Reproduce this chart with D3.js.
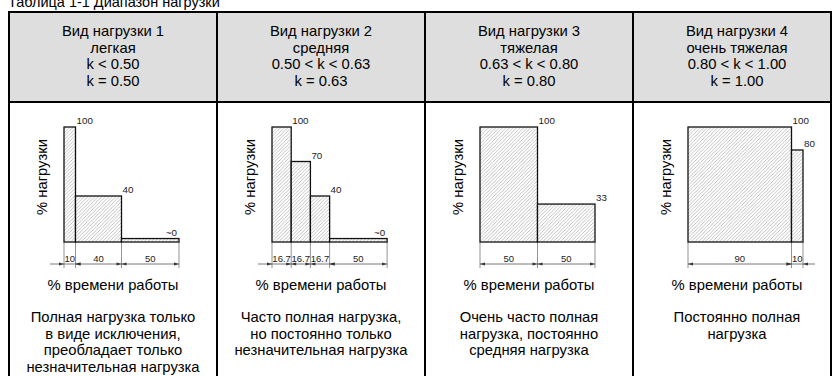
<!DOCTYPE html>
<html>
<head>
<meta charset="utf-8">
<script src="https://cdn.jsdelivr.net/npm/d3@7"></script>
<style>
  html, body { margin: 0; padding: 0; background: #fff; }
  svg { display: block; font-family: Arial, "Liberation Sans", sans-serif; }
</style>
</head>
<body>
<svg id="chart" width="833" height="376"></svg>
<script>
// ---------- data ----------
const title = "Таблица 1-1 Диапазон нагрузки";
const loadTypes = ["Вид нагрузки 1", "Вид нагрузки 2", "Вид нагрузки 3", "Вид нагрузки 4"];
const loadNames = ["легкая", "средняя", "тяжелая", "очень тяжелая"];
const kRanges = ["k < 0.50", "0.50 < k < 0.63", "0.63 < k < 0.80", "0.80 < k < 1.00"];
const kValues = ["k = 0.50", "k = 0.63", "k = 0.80", "k = 1.00"];
const timeShares = [[10, 40, 50], [16.7, 16.7, 16.7, 50], [50, 50], [90, 10]];
const loadLevels = [[100, 40, 3], [100, 70, 40, 3], [100, 33], [100, 80]];
const loadLabels = [["100", "40", "~0"], ["100", "70", "40", "~0"], ["100", "33"], ["100", "80"]];
const timeLabels = [["10", "40", "50"], ["16.7", "16.7", "16.7", "50"], ["50", "50"], ["90", "10"]];
const yAxisTitle = "% нагрузки";
const xAxisTitle = "% времени работы";
const descriptions = [
  ["Полная нагрузка только", "в виде исключения,", "преобладает только", "незначительная нагрузка"],
  ["Часто полная нагрузка,", "но постоянно только", "незначительная нагрузка"],
  ["Очень часто полная", "нагрузка, постоянно", "средняя нагрузка"],
  ["Постоянно полная", "нагрузка"]
];

// ---------- layout ----------
const svg = d3.select("#chart");
const tableLeft = 9, tableRight = 831, tableTop = 12, headerBottom = 102;
const colW = 208;
const colX = d3.scaleLinear().domain([0, 1]).range([tableLeft, tableLeft + colW]);
const fontMain = 14.8;

// hatch pattern
const defs = svg.append("defs");
const pat = defs.append("pattern")
  .attr("id", "hatch").attr("patternUnits", "userSpaceOnUse")
  .attr("width", 3.5).attr("height", 3.5);
pat.append("rect").attr("width", 3.5).attr("height", 3.5).attr("fill", "#fff");
pat.append("path").attr("d", "M-1,1 l2,-2 M0,3.5 l3.5,-3.5 M2.5,4.5 l2,-2")
  .attr("stroke", "#a0a0a0").attr("stroke-width", 0.65);

// title (cut off at the top in the reference)
svg.append("text").attr("x", 8).attr("y", 7)
  .attr("font-size", 14.5).attr("fill", "#000").text(title);

// header background
svg.append("rect").attr("x", tableLeft).attr("y", tableTop)
  .attr("width", tableRight - tableLeft).attr("height", headerBottom - tableTop)
  .attr("fill", "#dedede");

// header texts
const headerLines = loadTypes.map((t, i) => [t, loadNames[i], kRanges[i], kValues[i]]);
headerLines.forEach((lines, i) => {
  const cx = colX(i) + colW / 2;
  svg.append("g").selectAll("text").data(lines).join("text")
    .attr("x", cx).attr("y", (d, j) => 36 + j * 16.6)
    .attr("text-anchor", "middle").attr("font-size", fontMain).attr("fill", "#000")
    .text(d => d);
});

// charts
const xScale = d3.scaleLinear().domain([0, 100]).range([0, 115]);
const yScale = d3.scaleLinear().domain([0, 100]).range([242, 127]);
const dimY = 264, extBottom = 268;

function arrow(g, x, dir) {
  g.append("path")
    .attr("d", `M${x},${dimY} l${-dir * 5},-1.6 l0,3.2 Z`)
    .attr("fill", "#333");
}

timeShares.forEach((shares, i) => {
  const g = svg.append("g").attr("transform", `translate(${colX(i) + 55},0)`);
  const starts = [];
  let acc = 0;
  shares.forEach(s => { starts.push(acc); acc += s; });
  const bars = shares.map((s, j) => ({ x0: starts[j], x1: starts[j] + s, v: loadLevels[i][j], lab: loadLabels[i][j], tl: timeLabels[i][j] }));

  // y axis title
  svg.append("text")
    .attr("transform", `translate(${colX(i) + 33},177) rotate(-90)`)
    .attr("text-anchor", "middle").attr("dominant-baseline", "central")
    .attr("font-size", fontMain).attr("fill", "#000").text(yAxisTitle);

  // extension lines
  const bounds = [0, ...bars.map(b => b.x1)];
  g.selectAll("line.ext").data(bounds).join("line").attr("class", "ext")
    .attr("x1", d => xScale(d)).attr("x2", d => xScale(d))
    .attr("y1", yScale(0)).attr("y2", extBottom)
    .attr("stroke", "#777").attr("stroke-width", 0.8);

  // bars
  g.selectAll("rect.bar").data(bars).join("rect").attr("class", "bar")
    .attr("x", d => xScale(d.x0)).attr("width", d => xScale(d.x1) - xScale(d.x0))
    .attr("y", d => yScale(d.v)).attr("height", d => yScale(0) - yScale(d.v))
    .attr("fill", "url(#hatch)").attr("stroke", "#111").attr("stroke-width", 1.3);

  // value labels
  g.selectAll("text.val").data(bars).join("text").attr("class", "val")
    .attr("x", d => d.v < 5 ? xScale(d.x1) - 2 : xScale(d.x1) + 1)
    .attr("y", d => yScale(d.v) - 3)
    .attr("text-anchor", d => d.v < 5 ? "end" : "start")
    .attr("font-size", 9.8).attr("fill", "#222").text(d => d.lab);

  // dimension line
  const narrow = b => xScale(b.x1) - xScale(b.x0) < 25;
  const first = bars[0], last = bars[bars.length - 1];
  const dx0 = xScale(first.x0) - (narrow(first) ? 14 : 0);
  const dx1 = xScale(last.x1) + (narrow(last) ? 12 : 0);
  g.append("line").attr("x1", dx0).attr("x2", dx1).attr("y1", dimY).attr("y2", dimY)
    .attr("stroke", "#555").attr("stroke-width", 0.8);
  bars.forEach(b => {
    const a = xScale(b.x0), c = xScale(b.x1);
    if (narrow(b)) { arrow(g, a, 1); arrow(g, c, -1); }
    else { arrow(g, a, -1); arrow(g, c, 1); }
  });
  g.selectAll("text.dim").data(bars).join("text").attr("class", "dim")
    .attr("x", d => (xScale(d.x0) + xScale(d.x1)) / 2).attr("y", dimY - 2)
    .attr("text-anchor", "middle").attr("font-size", 9.5).attr("fill", "#222")
    .text(d => d.tl);

  // x axis title
  svg.append("text").attr("x", colX(i) + colW / 2).attr("y", 290)
    .attr("text-anchor", "middle").attr("font-size", fontMain).attr("fill", "#000")
    .text(xAxisTitle);

  // description
  svg.append("g").selectAll("text").data(descriptions[i]).join("text")
    .attr("x", colX(i) + colW / 2).attr("y", (d, j) => 322 + j * 16.6)
    .attr("text-anchor", "middle").attr("font-size", fontMain).attr("fill", "#000")
    .text(d => d);
});

// table borders
const vlines = [0, 1, 2, 3].map(i => colX(i)).concat([tableRight]);
svg.append("g").selectAll("line").data(vlines).join("line")
  .attr("x1", d => d).attr("x2", d => d).attr("y1", tableTop - 1).attr("y2", 376)
  .attr("stroke", "#000").attr("stroke-width", 2);
svg.append("line").attr("x1", tableLeft).attr("x2", tableRight)
  .attr("y1", tableTop).attr("y2", tableTop).attr("stroke", "#000").attr("stroke-width", 2);
svg.append("line").attr("x1", tableLeft).attr("x2", tableRight)
  .attr("y1", headerBottom).attr("y2", headerBottom).attr("stroke", "#000").attr("stroke-width", 2);
</script>
</body>
</html>
